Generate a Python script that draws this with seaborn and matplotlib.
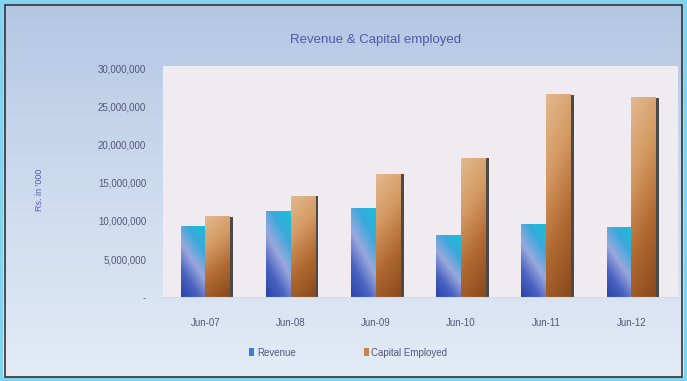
import numpy as np
import pandas as pd
import matplotlib
matplotlib.use("Agg")
import matplotlib.pyplot as plt
from matplotlib.patches import Rectangle
from matplotlib.colors import LinearSegmentedColormap
import seaborn as sns

years = ["Jun-07", "Jun-08", "Jun-09", "Jun-10", "Jun-11", "Jun-12"]
revenue = [9.3e6, 11.2e6, 11.6e6, 8.1e6, 9.5e6, 9.1e6]
capital = [10.5e6, 13.2e6, 16.1e6, 18.2e6, 26.5e6, 26.1e6]
series = ["Revenue", "Capital Employed"]
yticks = [0, 5e6, 10e6, 15e6, 20e6, 25e6, 30e6]
ytick_labels = ["-", "5,000,000", "10,000,000", "15,000,000", "20,000,000", "25,000,000", "30,000,000"]

df = pd.DataFrame({
    "year": years * 2,
    "value": revenue + capital,
    "series": [series[0]] * len(years) + [series[1]] * len(years),
})

sns.set_style("white")
plt.rcParams["font.family"] = ["Liberation Sans", "DejaVu Sans"]

fig = plt.figure(figsize=(6.87, 3.81), dpi=100)

# figure background gradient
bg = fig.add_axes([0, 0, 1, 1], zorder=-5)
bg_cmap = LinearSegmentedColormap.from_list("bg", ["#b3c7e3", "#cddbee", "#e3ebf5"])
bg.imshow(np.linspace(0, 1, 256).reshape(-1, 1), cmap=bg_cmap, aspect="auto", extent=[0, 1, 0, 1])
bg.set_axis_off()
fig.patches.append(Rectangle((0.002, 0.004), 0.996, 0.992, transform=fig.transFigure,
                             fill=False, edgecolor="#80d4f0", linewidth=3))
fig.patches.append(Rectangle((0.008, 0.01), 0.985, 0.978, transform=fig.transFigure,
                             fill=False, edgecolor="#333333", linewidth=1.2))

ax = fig.add_axes([0.237, 0.22, 0.75, 0.607])
ax.set_facecolor("#efebf1")

sns.barplot(data=df, x="year", y="value", hue="series", ax=ax,
            palette=["#3b7fcf", "#c9844a"], width=0.58, gap=0.0,
            saturation=1, edgecolor="none")

ax.set_ylim(0, 30.3e6)
ax.set_xlim(-0.5, len(years) - 0.45)
ax.autoscale(False)

rev_cmap = LinearSegmentedColormap.from_list("rev", ["#2a45a8", "#4a62c0", "#9aa8dc", "#3aa8dc", "#18c0d8"])
cap_cmap = LinearSegmentedColormap.from_list("cap", ["#8a4a1e", "#b06830", "#d49a62", "#e2b88e"])

n = len(years)
for i, bar in enumerate(ax.patches[:2 * n]):
    x, y = bar.get_x(), bar.get_y()
    w, h = bar.get_width(), bar.get_height()
    cmap = rev_cmap if i < n else cap_cmap
    ax.add_patch(Rectangle((x + w, 0), w * 0.13, h, facecolor="#4a4a4a",
                           edgecolor="none", zorder=1.5))
    if i < n:
        g = np.linspace(0, 1, 64).reshape(-1, 1) + np.linspace(0, 0.5, 16).reshape(1, -1)
    else:
        g = np.linspace(0, 1, 64).reshape(-1, 1) * 0.8 + np.linspace(0.2, 0, 16).reshape(1, -1)
    ax.imshow(g / g.max(), cmap=cmap, origin="lower", aspect="auto",
              extent=[x, x + w, y, y + h], zorder=2.5)

for s in ["top", "right", "left"]:
    ax.spines[s].set_visible(False)
ax.spines["bottom"].set_color("#d8d8e0")

ax.set_yticks(yticks)
ax.set_yticklabels(ytick_labels, fontsize=7, color="#55577a")
ax.tick_params(axis="y", length=0, pad=12)
ax.tick_params(axis="x", length=0, pad=15, labelsize=7, labelcolor="#55577a")
ax.set_xlabel("")
ax.set_ylabel("")

fig.text(40 / 687, 1 - 190 / 381, "Rs. in '000", rotation=90, ha="center", va="center",
         fontsize=6.5, color="#5a5ab0")
fig.text(0.546, 0.895, "Revenue & Capital employed", ha="center", va="center",
         fontsize=9.5, color="#5058a8")

ax.legend(loc="upper center", bbox_to_anchor=(0.36, -0.18), ncol=2, frameon=False,
          fontsize=7, handlelength=0.5, handleheight=0.8, columnspacing=7,
          labelcolor="#55577a", handletextpad=0.3)

fig.savefig("out.png", dpi=100)
